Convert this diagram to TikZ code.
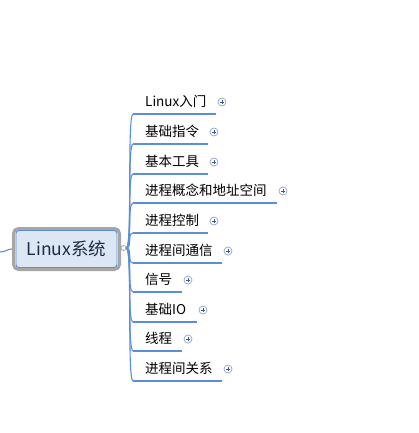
\documentclass[tikz,border=0pt]{standalone}
\usepackage{fontspec}
\setmainfont{Noto Sans CJK SC}
\definecolor{lineblue}{HTML}{5B8ED6}
\definecolor{rootfill}{HTML}{DCE6F4}
\definecolor{rootgray}{HTML}{A6A6A6}
\definecolor{iconring}{HTML}{8FA4C8}
\definecolor{iconplus}{HTML}{3C5A9A}
\definecolor{roottext}{HTML}{1F2A44}
\begin{document}
\begin{tikzpicture}[x=1pt,y=-1pt,
  branch/.style={draw=lineblue,line width=1.1pt},
  underl/.style={draw=lineblue,line width=2pt},
  lbl/.style={anchor=west,inner sep=0pt,font=\fontsize{13.5}{15}\selectfont,text=black},
  plusicon/.style={circle,draw=iconring,fill=white,line width=0.7pt,minimum size=8pt,inner sep=0pt,
    path picture={\draw[iconplus,line width=0.8pt]
      ([xshift=-2pt]path picture bounding box.center) -- ([xshift=2pt]path picture bounding box.center)
      ([yshift=-2pt]path picture bounding box.center) -- ([yshift=2pt]path picture bounding box.center);}},
  rootouter/.style={draw=rootgray,line width=3pt,rounded corners=5pt,minimum width=106pt,minimum height=41pt,inner sep=0pt,fill=white},
  rootinner/.style={draw=lineblue,line width=0.9pt,fill=rootfill,rounded corners=3pt,minimum width=101pt,minimum height=37pt,inner sep=0pt,
    font=\fontsize{17.5}{20}\selectfont,text=roottext},
  hubc/.style={circle,draw=rootgray,fill=white,line width=0.8pt,minimum size=5pt,inner sep=0pt}
]
\useasboundingbox (0,0) rectangle (418,433);

% left stub
\coordinate (lft) at (0,252);
\node[rootouter] (root) at (66.5,249) {};
\node[rootinner] (rootin) at (66.5,249) {Linux系统};
\draw[branch] (lft) .. controls +(6,0) and +(-5,0) .. (root.west);

\node[hubc] (hub) at (123.5,248) {};

% children: index / label / underline y / right end / icon x
\foreach \i/\t/\y/\xr/\xp in {
  1/Linux入门/114/216/222,
  2/基础指令/144/208/214,
  3/基本工具/174/208/214,
  4/进程概念和地址空间/203/277/283,
  5/进程控制/233/208/214,
  6/进程间通信/263/222/228,
  7/信号/292/182/188,
  8/基础IO/322/197/203,
  9/线程/351/182/188,
  10/进程间关系/381/222/228}{
  \coordinate (s\i) at (133,\y);
  \coordinate (e\i) at (\xr,\y);
  \node[lbl] (c\i) at (145,\y-12.5) {\t};
  \node[plusicon] (p\i) at (\xp,\y-12) {};
  \draw[branch] (hub.east) .. controls +(6,0) and +(-6,0) .. (s\i);
  \draw[underl] (s\i) -- (e\i);
}
\end{tikzpicture}
\end{document}
